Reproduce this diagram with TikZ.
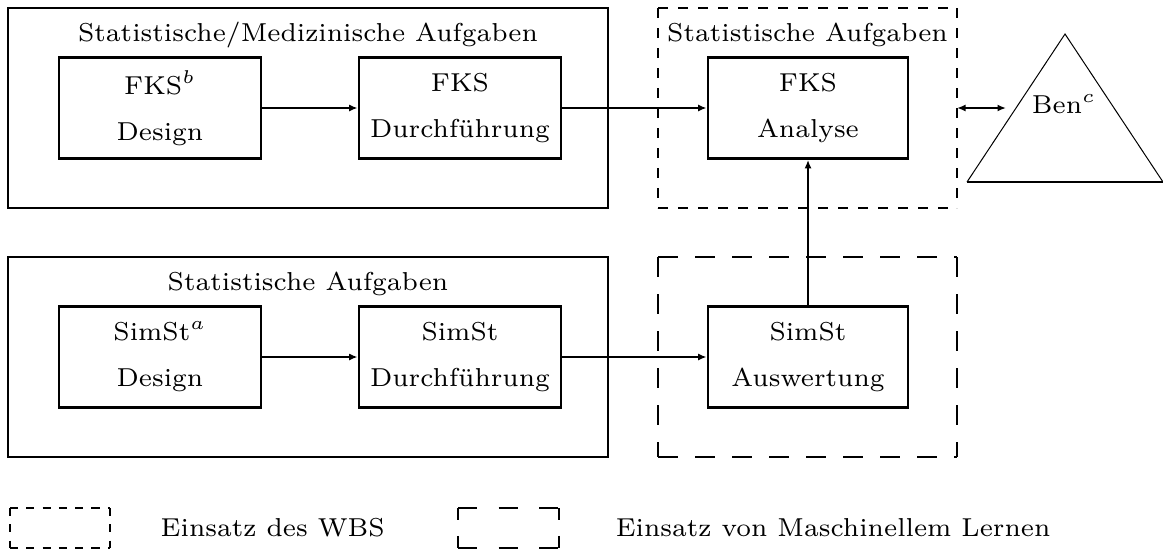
\documentclass[tikz,border=0pt]{standalone}
\usetikzlibrary{arrows.meta,decorations}
% dashed frame around a node: horizontal sides with #2, vertical sides with #3,
% every side starting and ending with a dash
\newcommand\dashframe[3]{%
  \draw[frameline,#2] (#1.north west) -- (#1.north east);
  \draw[frameline,#2] (#1.south west) -- (#1.south east);
  \draw[frameline,#3] (#1.north west) -- (#1.south west);
  \draw[frameline,#3] (#1.north east) -- (#1.south east);
}
\begin{document}
\begin{tikzpicture}[x=0.27pt,y=-0.27pt,
  every node/.style={font=\fontsize{7}{12.4}\selectfont},
  taskbox/.style={draw,line width=0.75pt,minimum width={202*0.27pt},minimum height={101*0.27pt},inner sep=0pt,align=center},
  groupbox/.style={draw,line width=0.55pt,minimum width={600*0.27pt},minimum height={200*0.27pt},inner sep=0pt},
  region/.style={inner sep=0pt,outer sep=0pt,minimum width={299*0.27pt},minimum height={200*0.27pt}},
  frameline/.style={line width=0.55pt,dash expand off},
  wbsdash/.style={dash pattern=on 2.7pt off 2.7pt},
  mldash/.style={dash pattern=on 5.4pt off 4.6pt},
  flow/.style={line width=0.55pt,-{Latex[length=2.3pt,width=1.9pt]}},
  heading/.style={anchor=base,inner sep=0pt}]
\useasboundingbox (0,0) rectangle (1163,559);

% upper group: clinical trial
\node[groupbox] (gA) at (308,108) {};
\node[heading] (tA) at (308,41) {Statistische/Medizinische Aufgaben};
\node[taskbox] (fd) at (160,108) {FKS$^b$\\Design};
\node[taskbox] (fr) at (460,108) {FKS\\Durchführung};

% lower group: simulation study
\node[groupbox] (gB) at (308,357) {};
\node[heading] (tB) at (308,290) {Statistische Aufgaben};
\node[taskbox] (sd) at (160,357) {SimSt$^a$\\Design};
\node[taskbox] (sr) at (460,357) {SimSt\\Durchführung};

% expert system region
\node[region] (gC) at (807.5,108) {};
\dashframe{gC}{wbsdash}{wbsdash}
\node[heading] (tC) at (807.5,41) {Statistische Aufgaben};
\node[taskbox,minimum width={200*0.27pt}] (fa) at (808,108) {FKS\\Analyse};

% machine learning region
\node[region] (gD) at (807.5,357) {};
\dashframe{gD}{mldash}{mldash}
\node[taskbox,minimum width={200*0.27pt}] (sa) at (808,357) {SimSt\\Auswertung};

% user triangle
\coordinate (top) at (1065,34);
\coordinate (bl) at (967,182);
\coordinate (br) at (1163,182);
\draw[line width=0.27pt] (bl) -- (top) -- (br);
\draw[line width=0.55pt] (bl) -- (br);
\node (ben) at (1064,104) {Ben$^c$};
\coordinate (benin) at (1006,108);

% flows
\draw[flow] (fd) -- (fr);
\draw[flow] (fr) -- (fa);
\draw[flow] (sd) -- (sr);
\draw[flow] (sr) -- (sa);
\draw[flow,line width=0.45pt] (sa) -- (fa);
\draw[line width=0.55pt,{Latex[length=2.3pt,width=1.9pt]}-{Latex[length=2.3pt,width=1.9pt]}] (gC.east) -- (benin);

% legend
\node[region,minimum width={100*0.27pt},minimum height={40*0.27pt}] (lw) at (60,528) {};
\dashframe{lw}{dash pattern=on 2.2pt off 2.2pt}{dash pattern=on 2.2pt off 2.2pt}
\node[anchor=west,inner sep=0pt] (lwt) at (160,528) {Einsatz des WBS};
\node[region,minimum width={101*0.27pt},minimum height={40*0.27pt}] (lm) at (508.5,528) {};
\dashframe{lm}{dash pattern=on 5.1pt off 5.9pt}{dash pattern=on 3.3pt off 4.2pt}
\node[anchor=west,inner sep=0pt] (lmt) at (615,528) {Einsatz von Maschinellem Lernen};
\end{tikzpicture}
\end{document}
